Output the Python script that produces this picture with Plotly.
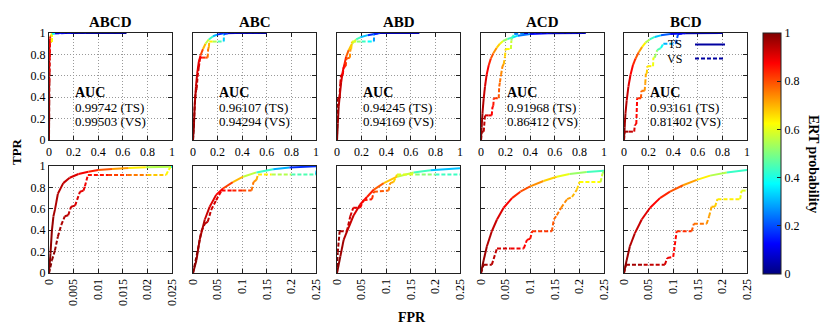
import plotly.graph_objects as go
from plotly.colors import sample_colorscale

# the page puts the figure 8 px in from the top-left corner
OFF = 8
W, H = 822, 324
FONT = 'Liberation Serif'


def px(X):
    return (X - OFF) / W


def py(Y):
    return 1 - (Y - OFF) / H


JET = [[0.0, 'rgb(0,0,128)'], [0.125, 'rgb(0,0,255)'], [0.375, 'rgb(0,255,255)'],
       [0.625, 'rgb(255,255,0)'], [0.875, 'rgb(255,0,0)'], [1.0, 'rgb(128,0,0)']]

models = ['ABCD', 'ABC', 'ABD', 'ACD', 'BCD']
auc_ts = ['0.99742', '0.96107', '0.94245', '0.91968', '0.93161']
auc_vs = ['0.99503', '0.94294', '0.94169', '0.86412', '0.81402']

# ROC points: fpr, tpr, threshold (ERT probability)
abcd_ts_fpr = [0, 0.0003, 0.0006, 0.0009, 0.0012, 0.0018, 0.0029, 0.0042, 0.006, 0.008, 0.010, 0.0128, 0.0162, 0.0197, 0.025, 0.04, 0.1, 0.3, 0.63]
abcd_ts_tpr = [0, 0.18, 0.40, 0.53, 0.59, 0.74, 0.84, 0.89, 0.925, 0.947, 0.963, 0.972, 0.981, 0.988, 0.994, 0.997, 0.999, 1.0, 1.0]
abcd_ts_thr = [1.0, 0.99, 0.98, 0.97, 0.96, 0.95, 0.94, 0.92, 0.9, 0.87, 0.82, 0.76, 0.68, 0.6, 0.5, 0.2, 0.08, 0.03, 0.0]
abcd_vs_fpr = [0, 0.0006, 0.0012, 0.0018, 0.0025, 0.0032, 0.0039, 0.0045, 0.0053, 0.0063, 0.007, 0.0073, 0.0079, 0.012, 0.016, 0.02, 0.0238, 0.0243, 0.0248, 0.05, 0.2, 0.6]
abcd_vs_tpr = [0, 0.12, 0.21, 0.34, 0.45, 0.53, 0.54, 0.62, 0.63, 0.76, 0.77, 0.81, 0.916, 0.916, 0.916, 0.916, 0.916, 0.963, 0.994, 0.998, 1.0, 1.0]
abcd_vs_thr = [1.0, 0.99, 0.98, 0.97, 0.96, 0.95, 0.94, 0.93, 0.92, 0.9, 0.9, 0.89, 0.88, 0.84, 0.79, 0.72, 0.64, 0.62, 0.6, 0.15, 0.05, 0.0]

abc_ts_fpr = [0, 0.007, 0.0135, 0.024, 0.034, 0.047, 0.061, 0.081, 0.102, 0.129, 0.163, 0.196, 0.25, 0.35, 0.6]
abc_ts_tpr = [0, 0.12, 0.31, 0.50, 0.62, 0.73, 0.79, 0.85, 0.90, 0.94, 0.97, 0.985, 0.997, 1.0, 1.0]
abc_ts_thr = [1.0, 0.98, 0.96, 0.94, 0.92, 0.89, 0.86, 0.76, 0.63, 0.5, 0.36, 0.24, 0.1, 0.05, 0.0]
abc_vs_fpr = [0, 0.01, 0.017, 0.024, 0.03, 0.037, 0.047, 0.053, 0.058, 0.08, 0.1, 0.119, 0.123, 0.129, 0.132, 0.16, 0.2, 0.25, 0.252, 0.3, 0.55]
abc_vs_tpr = [0, 0.22, 0.39, 0.46, 0.48, 0.59, 0.68, 0.73, 0.77, 0.77, 0.77, 0.77, 0.85, 0.87, 0.92, 0.92, 0.92, 0.92, 0.99, 1.0, 1.0]
abc_vs_thr = [1.0, 0.98, 0.96, 0.95, 0.94, 0.93, 0.91, 0.9, 0.89, 0.86, 0.82, 0.78, 0.74, 0.72, 0.68, 0.6, 0.5, 0.4, 0.25, 0.1, 0.0]

abd_ts_fpr = [0, 0.0068, 0.0135, 0.024, 0.034, 0.047, 0.061, 0.075, 0.095, 0.122, 0.156, 0.19, 0.25, 0.35, 0.67]
abd_ts_tpr = [0, 0.155, 0.31, 0.43, 0.54, 0.64, 0.71, 0.78, 0.84, 0.90, 0.94, 0.96, 0.98, 1.0, 1.0]
abd_ts_thr = [1.0, 0.98, 0.96, 0.94, 0.92, 0.9, 0.87, 0.82, 0.75, 0.62, 0.5, 0.38, 0.25, 0.1, 0.0]
abd_vs_fpr = [0, 0.0014, 0.0054, 0.02, 0.027, 0.033, 0.047, 0.054, 0.071, 0.075, 0.105, 0.108, 0.115, 0.122, 0.16, 0.2, 0.25, 0.3, 0.302, 0.35, 0.65]
abd_vs_tpr = [0, 0.19, 0.39, 0.39, 0.53, 0.61, 0.61, 0.68, 0.69, 0.76, 0.77, 0.84, 0.85, 0.92, 0.92, 0.92, 0.92, 0.92, 0.99, 1.0, 1.0]
abd_vs_thr = [1.0, 0.98, 0.96, 0.94, 0.92, 0.91, 0.89, 0.87, 0.84, 0.82, 0.76, 0.72, 0.7, 0.64, 0.55, 0.47, 0.4, 0.35, 0.2, 0.1, 0.0]

acd_ts_fpr = [0, 0.0054, 0.012, 0.022, 0.0325, 0.046, 0.063, 0.08, 0.10, 0.127, 0.154, 0.18, 0.215, 0.25, 0.3, 0.4, 0.55, 0.85]
acd_ts_tpr = [0, 0.12, 0.25, 0.39, 0.50, 0.61, 0.70, 0.76, 0.81, 0.86, 0.90, 0.925, 0.944, 0.956, 0.975, 0.99, 0.998, 1.0]
acd_ts_thr = [1.0, 0.98, 0.96, 0.94, 0.92, 0.9, 0.86, 0.82, 0.77, 0.7, 0.64, 0.57, 0.48, 0.4, 0.3, 0.18, 0.08, 0.0]
acd_vs_fpr = [0, 0.0054, 0.022, 0.0325, 0.06, 0.087, 0.0935, 0.10, 0.104, 0.144, 0.148, 0.154, 0.163, 0.175, 0.185, 0.195, 0.2, 0.243, 0.247, 0.25, 0.27, 0.35, 0.85]
acd_vs_tpr = [0, 0.078, 0.078, 0.23, 0.23, 0.23, 0.31, 0.32, 0.39, 0.39, 0.50, 0.54, 0.61, 0.69, 0.71, 0.78, 0.85, 0.85, 0.93, 0.95, 0.99, 1.0, 1.0]
acd_vs_thr = [1.0, 0.98, 0.95, 0.93, 0.9, 0.88, 0.87, 0.86, 0.85, 0.8, 0.78, 0.77, 0.75, 0.73, 0.71, 0.68, 0.65, 0.6, 0.55, 0.5, 0.35, 0.15, 0.0]

bcd_ts_fpr = [0, 0.0054, 0.012, 0.022, 0.036, 0.053, 0.073, 0.0935, 0.12, 0.148, 0.175, 0.209, 0.25, 0.3, 0.375, 0.5, 0.8]
bcd_ts_tpr = [0, 0.12, 0.25, 0.37, 0.50, 0.61, 0.70, 0.76, 0.82, 0.87, 0.91, 0.94, 0.963, 0.978, 0.99, 0.998, 1.0]
bcd_ts_thr = [1.0, 0.98, 0.96, 0.94, 0.92, 0.89, 0.86, 0.82, 0.76, 0.68, 0.6, 0.5, 0.36, 0.28, 0.15, 0.07, 0.0]
bcd_vs_fpr = [0, 0.004, 0.04, 0.083, 0.088, 0.10, 0.107, 0.1375, 0.142, 0.168, 0.173, 0.178, 0.185, 0.19, 0.236, 0.239, 0.25, 0.27, 0.3, 0.32, 0.42, 0.44, 0.5, 0.8]
bcd_vs_tpr = [0, 0.078, 0.078, 0.078, 0.14, 0.15, 0.39, 0.39, 0.46, 0.46, 0.53, 0.62, 0.62, 0.69, 0.69, 0.77, 0.77, 0.84, 0.86, 0.9, 0.9, 0.99, 1.0, 1.0]
bcd_vs_thr = [1.0, 0.98, 0.95, 0.92, 0.9, 0.88, 0.86, 0.8, 0.78, 0.74, 0.72, 0.7, 0.68, 0.66, 0.62, 0.6, 0.58, 0.48, 0.42, 0.35, 0.25, 0.15, 0.08, 0.0]

ts_data = [(abcd_ts_fpr, abcd_ts_tpr, abcd_ts_thr), (abc_ts_fpr, abc_ts_tpr, abc_ts_thr),
           (abd_ts_fpr, abd_ts_tpr, abd_ts_thr), (acd_ts_fpr, acd_ts_tpr, acd_ts_thr),
           (bcd_ts_fpr, bcd_ts_tpr, bcd_ts_thr)]
vs_data = [(abcd_vs_fpr, abcd_vs_tpr, abcd_vs_thr), (abc_vs_fpr, abc_vs_tpr, abc_vs_thr),
           (abd_vs_fpr, abd_vs_tpr, abd_vs_thr), (acd_vs_fpr, acd_vs_tpr, acd_vs_thr),
           (bcd_vs_fpr, bcd_vs_tpr, bcd_vs_thr)]

zoom_max = [0.025, 0.25, 0.25, 0.25, 0.25]
zoom_ticks = [['0', '0.005', '0.01', '0.015', '0.02', '0.025'],
              ['0', '0.05', '0.1', '0.15', '0.2', '0.25']]
full_ticks = ['0', '0.2', '0.4', '0.6', '0.8', '1']

# panel geometry in screen pixels
col_x0 = [49, 193, 337, 481, 624]
pw = 123
row_y = [(33, 140), (166, 273)]


def segments(fpr, tpr, thr, dash, xa, ya):
    """Un segment pe pereche de puncte, colorat dupa prag."""
    out = []
    for i in range(len(fpr) - 1):
        c = sample_colorscale(JET, [(thr[i] + thr[i + 1]) / 2])[0]
        out.append(go.Scatter(
            x=fpr[i:i + 2], y=tpr[i:i + 2], mode='lines',
            line=dict(color=c, width=2, dash=dash),
            xaxis=xa, yaxis=ya, showlegend=False, hoverinfo='skip'
        ))
    return out


traces = []
leg_common = dict(xanchor='left', yanchor='middle', bgcolor='rgba(0,0,0,0)',
                  font=dict(size=8), itemwidth=30, borderwidth=0)
layout = dict(
    template='none',
    width=W, height=H,
    margin=dict(l=0, r=0, t=0, b=0, autoexpand=False),
    paper_bgcolor='white', plot_bgcolor='white',
    font=dict(family=FONT, size=12, color='black'),
    showlegend=True,
    legend=dict(leg_common, x=px(690), y=py(44.5)),
    legend2=dict(leg_common, x=px(690), y=py(58.5)),
)
annotations = []

axis_common = dict(
    showline=True, linecolor='#222', linewidth=1.3, mirror='ticks',
    ticks='inside', ticklen=4, tickcolor='#222',
    showgrid=True, gridcolor='#999999', griddash='1px,2px', gridwidth=1,
    zeroline=False, tickfont=dict(family=FONT, size=12, color='black'),
    layer='below traces', automargin=False
)

for r in range(2):
    for c in range(5):
        n = r * 5 + c + 1
        xk = 'xaxis' if n == 1 else f'xaxis{n}'
        yk = 'yaxis' if n == 1 else f'yaxis{n}'
        xa = 'x' if n == 1 else f'x{n}'
        ya = 'y' if n == 1 else f'y{n}'
        top, bot = row_y[r]
        x0 = col_x0[c]
        if r == 0:
            xmax = 1.0
            xt = full_ticks
            tickangle = 0
        else:
            xmax = zoom_max[c]
            xt = zoom_ticks[0] if c == 0 else zoom_ticks[1]
            tickangle = -90
        xv = [xmax * i / 5 for i in range(6)]
        layout[xk] = dict(axis_common, domain=[px(x0), px(x0 + pw)], anchor=ya,
                          range=[0, xmax], tickvals=xv, ticktext=xt, tickangle=tickangle)
        layout[yk] = dict(axis_common, domain=[py(bot), py(top)], anchor=xa,
                          range=[0, 1], tickvals=[0, 0.2, 0.4, 0.6, 0.8, 1.0],
                          ticktext=full_ticks, showticklabels=(c == 0))

        f, t, th = ts_data[c]
        traces += segments(f, t, th, 'solid', xa, ya)
        f, t, th = vs_data[c]
        traces += segments(f, t, th, '4px,2px', xa, ya)

# titluri coloane si AUC
for c in range(5):
    x0 = col_x0[c]
    annotations.append(dict(x=px(x0 + pw / 2), y=py(22), xref='paper', yref='paper',
                            text=f'<b>{models[c]}</b>', showarrow=False,
                            font=dict(size=15), xanchor='center', yanchor='middle'))
    annotations.append(dict(x=px(x0 + 25), y=py(92), xref='paper', yref='paper',
                            text='<b>AUC</b>', showarrow=False, font=dict(size=14),
                            xanchor='left', yanchor='middle', borderpad=0))
    for txt, yy in [(f'{auc_ts[c]} (TS)', 107), (f'{auc_vs[c]} (VS)', 121)]:
        annotations.append(dict(x=px(x0 + 25), y=py(yy), xref='paper', yref='paper',
                                text=txt, showarrow=False, font=dict(size=13),
                                xanchor='left', yanchor='middle', borderpad=0))

# etichete legenda (text la stanga liniei, ca in original)
for txt, yy in [('TS', 44.5), ('VS', 58.5)]:
    annotations.append(dict(x=px(683), y=py(yy), xref='paper', yref='paper', text=txt,
                            showarrow=False, font=dict(size=12), xanchor='right',
                            yanchor='middle', borderpad=0))

annotations.append(dict(x=px(16), y=py(152), xref='paper', yref='paper', text='<b>TPR</b>',
                        showarrow=False, textangle=-90, font=dict(size=13),
                        xanchor='center', yanchor='middle', borderpad=0))
annotations.append(dict(x=px(412), y=py(317), xref='paper', yref='paper', text='<b>FPR</b>',
                        showarrow=False, font=dict(size=14), xanchor='center', yanchor='middle'))
annotations.append(dict(x=px(813), y=py(164), xref='paper', yref='paper',
                        text='<b>ERT probability</b>', showarrow=False, textangle=90,
                        font=dict(size=14), xanchor='center', yanchor='middle', borderpad=0))
layout['annotations'] = annotations

# legenda: doar liniile, textul e pus separat
traces.append(go.Scatter(x=[None], y=[None], mode='lines', name='', legend='legend',
                         line=dict(color='#0000a0', width=2), xaxis='x5', yaxis='y5'))
traces.append(go.Scatter(x=[None], y=[None], mode='lines', name='', legend='legend2',
                         line=dict(color='#0000a0', width=2, dash='4px,2px'), xaxis='x5', yaxis='y5'))

# bara de culori
traces.append(go.Scatter(
    x=[None, None], y=[None, None], mode='markers', showlegend=False, hoverinfo='skip',
    marker=dict(color=[0, 1], colorscale=JET, cmin=0, cmax=1, showscale=True,
                colorbar=dict(x=px(763), xanchor='left', xpad=0, ypad=0, thickness=18,
                              len=(274 - 33) / H, lenmode='fraction', y=py(153.5),
                              yanchor='middle', outlinewidth=1, outlinecolor='#222',
                              tickvals=[0, 0.2, 0.4, 0.6, 0.8, 1.0], ticktext=full_ticks,
                              ticks='inside', ticklen=4, tickcolor='#222',
                              tickfont=dict(family=FONT, size=12, color='black'))),
    xaxis='x5', yaxis='y5'
))

fig = go.Figure(data=traces, layout=layout)
fig.write_html('out.html')
